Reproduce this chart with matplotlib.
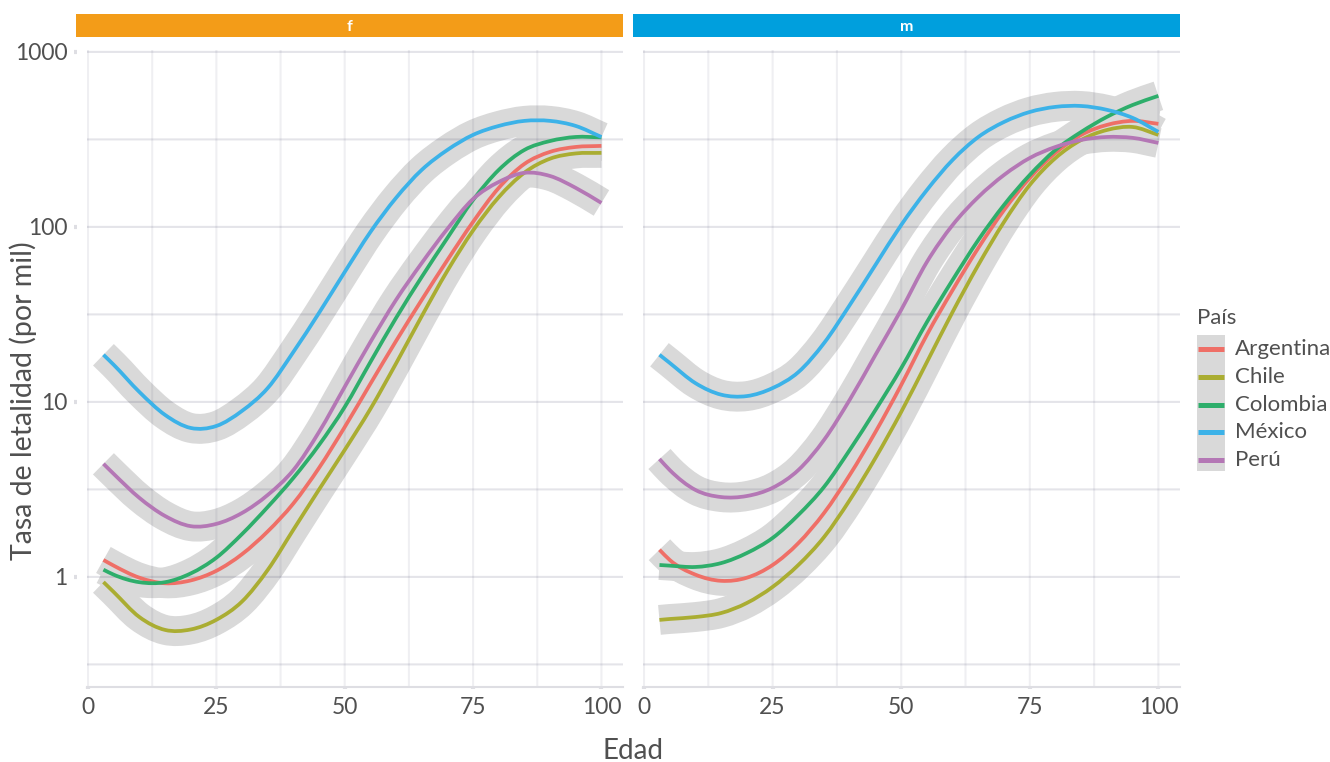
import numpy as np
import matplotlib
matplotlib.use("Agg")
import matplotlib.pyplot as plt
from matplotlib.patches import Rectangle, PathPatch
from matplotlib.path import Path
from matplotlib.lines import Line2D
from matplotlib.ticker import FixedLocator, FixedFormatter, NullLocator

plt.rcParams['font.family'] = ['Lato', 'DejaVu Sans']

# ---------------- data ----------------
edad = [3, 5, 10, 15, 20, 25, 30, 35, 40, 45, 50, 55, 60, 65, 70, 75, 80, 85, 90, 95, 100]
paises = ['Argentina', 'Chile', 'Colombia', 'México', 'Perú']
colores = ['#EF6F67', '#AAAD32', '#2EAE6B', '#3CB2E8', '#B477B5']
sexos = ['f', 'm']
strip_colores = ['#F39C18', '#009FDD']

argentina_f = [1.25, 1.16, 0.99, 0.92, 0.955, 1.084, 1.349, 1.82, 2.63, 4.20, 7.19, 12.7, 22.3, 38.3, 64.7, 106.9, 167.1, 229.1, 268.5, 286.4, 290.4]
chile_f = [0.935, 0.820, 0.590, 0.498, 0.501, 0.569, 0.724, 1.096, 1.862, 3.16, 5.32, 9.12, 16.6, 30.9, 56.2, 95.5, 147.9, 204.2, 245.5, 263.0, 264.9]
colombia_f = [1.10, 1.03, 0.933, 0.933, 1.047, 1.288, 1.758, 2.51, 3.68, 5.68, 9.36, 16.9, 30.2, 51.8, 86.5, 142.6, 211.8, 275.4, 309.7, 326.6, 325.0]
mexico_f = [18.6, 16.3, 11.4, 8.43, 7.10, 7.29, 8.89, 12.0, 19.3, 32.3, 55.3, 93.5, 146.6, 211.8, 275.4, 335.7, 377.6, 403.6, 403.6, 377.6, 326.6]
peru_f = [4.43, 3.88, 2.83, 2.23, 1.95, 2.01, 2.32, 2.94, 4.08, 6.74, 12.2, 22.0, 38.3, 62.2, 97.5, 144.5, 180.7, 203.7, 195.4, 167.1, 137.1]

argentina_m = [1.43, 1.25, 1.03, 0.95, 0.99, 1.17, 1.56, 2.32, 3.83, 6.74, 12.5, 24.2, 43.6, 75.9, 125.0, 190.5, 264.9, 335.7, 382.8, 403.6, 388.2]
chile_m = [0.568, 0.575, 0.590, 0.622, 0.710, 0.877, 1.17, 1.69, 2.75, 4.79, 8.77, 16.9, 32.7, 60.7, 106.9, 173.8, 247.7, 314.1, 358.1, 372.4, 335.7]
colombia_m = [1.17, 1.16, 1.14, 1.20, 1.37, 1.67, 2.26, 3.27, 5.32, 9.00, 15.6, 28.6, 49.8, 84.3, 133.7, 198.2, 275.4, 349.1, 425.6, 497.7, 561.0]
mexico_m = [18.6, 16.7, 12.8, 11.0, 10.8, 12.0, 14.8, 21.7, 35.8, 60.7, 102.6, 162.6, 241.5, 326.6, 398.1, 453.9, 485.3, 490.9, 466.7, 419.8, 349.1]
peru_m = [4.72, 4.08, 3.14, 2.86, 2.90, 3.23, 4.08, 6.07, 10.3, 18.6, 33.6, 63.1, 102.6, 148.3, 198.2, 247.7, 286.4, 314.1, 326.6, 322.8, 302.0]

x_ticks = [0, 25, 50, 75, 100]
x_minor = [12.5, 37.5, 62.5, 87.5]
y_ticks = [1, 10, 100, 1000]
y_tick_labels = ['1', '10', '100', '1000']
y_minor = [10 ** -0.5, 10 ** 0.5, 10 ** 1.5, 10 ** 2.5]

series = {
    'f': [argentina_f, chile_f, colombia_f, mexico_f, peru_f],
    'm': [argentina_m, chile_m, colombia_m, mexico_m, peru_m],
}


def smooth_path(x, y):
    """Smooth cubic (Hermite->Bezier) path through the points, in x / log10(y) space."""
    x = np.asarray(x, float)
    ly = np.log10(np.asarray(y, float))
    d = np.gradient(ly, x)
    verts = [(x[0], 10 ** ly[0])]
    codes = [Path.MOVETO]
    for k in range(len(x) - 1):
        h = x[k + 1] - x[k]
        verts += [(x[k] + h / 3, 10 ** (ly[k] + d[k] * h / 3)),
                  (x[k + 1] - h / 3, 10 ** (ly[k + 1] - d[k + 1] * h / 3)),
                  (x[k + 1], 10 ** ly[k + 1])]
        codes += [Path.CURVE4] * 3
    return Path(verts, codes)


# ---------------- layout ----------------
W, H = 1330, 762
fig = plt.figure(figsize=(W / 100, H / 100), dpi=100)
fig.patch.set_facecolor('white')


def fx(px):
    return px / W


def fy(py):
    return 1 - py / H


panel_top, panel_bot = 50, 687
panels = [(87, 623), (643, 1180)]
strips = [(76, 623), (633, 1180)]

ribbon_col = '#D9D9D9'
axis_col = '#DEDEE3'
grid_rgb = '#262650'
grid_alpha_h = 0.12
grid_alpha_v = 0.07
grid_lw = 1.5
text_col = '#505050'

for i, sexo in enumerate(sexos):
    x0, x1 = panels[i]
    ax = fig.add_axes([fx(x0), fy(panel_bot), (x1 - x0) / W, (panel_bot - panel_top) / H])
    ax.set_yscale('log')
    ax.set_xlim(-0.2, 104.2)
    ax.set_ylim(10 ** -0.629, 10 ** 3.011)
    ax.set_facecolor('white')
    ax.grid(False)

    # ribbons (below), grid (middle), lines (top)
    for vals in series[sexo]:
        ax.add_patch(PathPatch(smooth_path(edad, vals), fill=False, edgecolor=ribbon_col,
                               lw=21.5, capstyle='butt', joinstyle='round', zorder=1))
    for xv in x_ticks + x_minor:
        ax.axvline(xv, color=grid_rgb, alpha=grid_alpha_v, lw=grid_lw, zorder=2, snap=False)
    for yv in y_ticks + y_minor:
        ax.axhline(yv, color=grid_rgb, alpha=grid_alpha_h, lw=grid_lw, zorder=2, snap=False)
    for vals, c in zip(series[sexo], colores):
        ax.add_patch(PathPatch(smooth_path(edad, vals), fill=False, edgecolor=c,
                               lw=2.7, capstyle='butt', joinstyle='round', zorder=3))

    ax.xaxis.set_major_locator(FixedLocator(x_ticks))
    ax.xaxis.set_minor_locator(NullLocator())
    ax.yaxis.set_major_locator(FixedLocator(y_ticks))
    ax.yaxis.set_minor_locator(NullLocator())
    ax.xaxis.set_major_formatter(FixedFormatter([str(t) for t in x_ticks]))

    for s in ['top', 'right', 'left']:
        ax.spines[s].set_visible(False)
    ax.spines['bottom'].set_color(axis_col)
    ax.spines['bottom'].set_linewidth(grid_lw)
    ax.spines['bottom'].set_zorder(2)
    ax.spines['left'].set_position(('outward', 7))

    ax.tick_params(axis='x', which='major', length=1.5, width=3, color=axis_col,
                   pad=6, labelsize=16.5, labelcolor=text_col)
    if i == 0:
        ax.yaxis.set_major_formatter(FixedFormatter(y_tick_labels))
        ax.tick_params(axis='y', which='major', length=2.2, width=3, color=axis_col,
                       pad=5, labelsize=16.5, labelcolor=text_col)
    else:
        ax.tick_params(axis='y', which='major', length=0, labelleft=False)

    # strip
    sx0, sx1 = strips[i]
    sax = fig.add_axes([fx(sx0), fy(37), (sx1 - sx0) / W, 23 / H])
    sax.set_facecolor(strip_colores[i])
    sax.set_xticks([])
    sax.set_yticks([])
    for s in sax.spines.values():
        s.set_visible(False)
    sax.text(0.5, 0.42, sexo, color='white', fontsize=11.5, fontweight='bold',
             ha='center', va='center', transform=sax.transAxes)

# axis titles
fig.text(fx(633), fy(751), 'Edad', ha='center', va='center', fontsize=20,
         color=text_col)
fig.text(fx(23), fy(401), 'Tasa de letalidad (por mil)', ha='center', va='center',
         rotation=90, fontsize=20.5, color=text_col)

# legend
fig.text(fx(1197), fy(318), 'País', ha='left', va='center', fontsize=16,
         color=text_col)
fig.patches.append(Rectangle((fx(1197), fy(471)), 28 / W, 136 / H,
                             transform=fig.transFigure, facecolor=ribbon_col,
                             edgecolor='none', figure=fig))
for k, (pais, c) in enumerate(zip(paises, colores)):
    yy = 349 + 27.8 * k
    fig.lines.append(Line2D([fx(1198), fx(1224)], [fy(yy), fy(yy)], color=c, lw=3.6,
                            solid_capstyle='butt', transform=fig.transFigure, figure=fig))
    fig.text(fx(1235), fy(yy), pais, ha='left', va='center', fontsize=16,
             color=text_col)

fig.savefig('out.png', dpi=100, facecolor='white')
